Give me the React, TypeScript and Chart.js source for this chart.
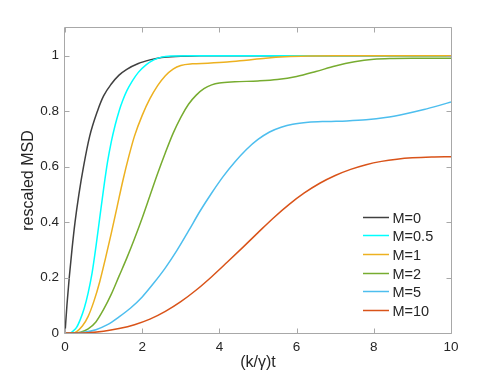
import React, { useEffect, useRef } from 'react';
import { Chart, registerables } from 'chart.js';

Chart.register(...registerables);

const seriesLabels = ['M=0', 'M=0.5', 'M=1', 'M=2', 'M=5', 'M=10'];
const seriesColors = ['#404040', '#00FFFF', '#EDB120', '#77AC30', '#4DBEEE', '#D95319'];

const tM0 = [0, 0.05, 0.11, 0.18, 0.26, 0.36, 0.48, 0.64, 0.84, 1.0, 1.2, 1.4, 1.6, 1.9, 2.2, 2.5, 3.0, 3.5, 10];
const yM0 = [0, 0.1, 0.2, 0.3, 0.4, 0.5, 0.6, 0.71, 0.8, 0.855, 0.898, 0.93, 0.951, 0.972, 0.985, 0.994, 0.998, 1, 1];

const tM05 = [0, 0.14, 0.2, 0.3, 0.4, 0.5, 0.6, 0.7, 0.8, 0.9, 1.0, 1.1, 1.2, 1.3, 1.4, 1.5, 1.6, 1.75, 1.9, 2.1, 2.3, 2.5, 2.8, 3.2, 10];
const yM05 = [0, 0, 0.006, 0.02, 0.05, 0.09, 0.145, 0.215, 0.31, 0.415, 0.52, 0.615, 0.69, 0.75, 0.8, 0.84, 0.873, 0.91, 0.94, 0.967, 0.985, 0.995, 0.999, 1, 1];

const tM1 = [0, 0.2, 0.3, 0.45, 0.6, 0.75, 0.9, 1.05, 1.2, 1.35, 1.5, 1.65, 1.8, 2.0, 2.2, 2.4, 2.6, 2.8, 3.0, 3.3, 3.7, 4.2, 4.7, 5.2, 5.7, 6.3, 7.0, 10];
const yM1 = [0, 0, 0.005, 0.025, 0.06, 0.115, 0.185, 0.27, 0.36, 0.455, 0.55, 0.635, 0.71, 0.785, 0.845, 0.892, 0.928, 0.952, 0.965, 0.971, 0.973, 0.977, 0.984, 0.991, 0.996, 0.999, 1, 1];

const tM2 = [0, 0.2, 0.4, 0.6, 0.8, 1.0, 1.2, 1.4, 1.6, 1.8, 2.0, 2.2, 2.4, 2.6, 2.8, 3.0, 3.2, 3.4, 3.6, 3.8, 4.0, 4.4, 5.0, 5.5, 6.0, 6.5, 7.0, 7.5, 8.0, 8.5, 9.0, 10];
const yM2 = [0, 0, 0.003, 0.015, 0.04, 0.085, 0.14, 0.205, 0.27, 0.34, 0.415, 0.495, 0.575, 0.65, 0.72, 0.778, 0.825, 0.858, 0.881, 0.895, 0.902, 0.906, 0.909, 0.914, 0.925, 0.943, 0.963, 0.978, 0.987, 0.99, 0.991, 0.991];

const tM5 = [0, 0.2, 0.5, 0.8, 1.1, 1.4, 1.7, 2.0, 2.3, 2.6, 2.9, 3.2, 3.5, 3.8, 4.1, 4.4, 4.7, 5.0, 5.3, 5.6, 5.9, 6.3, 6.8, 7.3, 7.8, 8.3, 8.8, 9.3, 9.7, 10];
const yM5 = [0, 0, 0.003, 0.012, 0.03, 0.058, 0.09, 0.13, 0.18, 0.235, 0.298, 0.368, 0.44, 0.505, 0.565, 0.617, 0.662, 0.698, 0.725, 0.742, 0.753, 0.76, 0.763, 0.765, 0.769, 0.777, 0.79, 0.806, 0.821, 0.833];

const tM10 = [0, 0.3, 0.6, 1.0, 1.4, 1.8, 2.2, 2.6, 3.0, 3.4, 3.8, 4.2, 4.6, 5.0, 5.4, 5.8, 6.2, 6.6, 7.0, 7.4, 7.8, 8.2, 8.6, 9.0, 9.5, 10];
const yM10 = [0, 0, 0.001, 0.006, 0.016, 0.03, 0.05, 0.078, 0.113, 0.155, 0.203, 0.255, 0.308, 0.362, 0.415, 0.463, 0.505, 0.54, 0.568, 0.59, 0.607, 0.619, 0.627, 0.632, 0.635, 0.636];

const seriesT = [tM0, tM05, tM1, tM2, tM5, tM10];
const seriesY = [yM0, yM05, yM1, yM2, yM5, yM10];

const xTicks = [0, 2, 4, 6, 8, 10];
const yTicks = [0, 0.2, 0.4, 0.6, 0.8, 1];

const FONT = '"Liberation Sans", Arial, Helvetica, sans-serif';
const TEXT = '#262626';
const BOX = '#a8a8a8';

const boxPlugin = {
  id: 'matlabBox',
  afterDatasetsDraw(chart: any) {
    const { ctx, chartArea: a, scales } = chart;
    ctx.save();
    ctx.strokeStyle = BOX;
    ctx.lineWidth = 1;
    const L = Math.round(a.left) - 0.5;
    const R = Math.round(a.right) + 0.5;
    const T = Math.round(a.top) - 0.5;
    const B = Math.round(a.bottom) + 0.5;
    ctx.beginPath();
    ctx.rect(L, T, R - L, B - T);
    const tl = 5;
    xTicks.forEach((v) => {
      const x = Math.round(scales.x.getPixelForValue(v)) + 0.5;
      ctx.moveTo(x, B); ctx.lineTo(x, B - tl);
      ctx.moveTo(x, T); ctx.lineTo(x, T + tl);
    });
    yTicks.forEach((v) => {
      const y = Math.round(scales.y.getPixelForValue(v)) + 0.5;
      ctx.moveTo(L, y); ctx.lineTo(L + tl, y);
      ctx.moveTo(R, y); ctx.lineTo(R - tl, y);
    });
    ctx.stroke();
    ctx.restore();
  },
  afterDraw(chart: any) {
    const { ctx, chartArea: a } = chart;
    const ds = chart.data.datasets;
    const n = ds.length;
    const rowH = 18.7;
    const x0 = a.right - 88;
    const x1 = a.right - 62;
    const tx = a.right - 58.5;
    const lastY = a.bottom - 23;
    ctx.save();
    ctx.font = `14.5px ${FONT}`;
    ctx.textBaseline = 'middle';
    ctx.textAlign = 'left';
    ds.forEach((d: any, i: number) => {
      const y = Math.round(lastY - (n - 1 - i) * rowH) + 0.5;
      ctx.strokeStyle = d.borderColor;
      ctx.lineWidth = 1.5;
      ctx.beginPath();
      ctx.moveTo(x0, y);
      ctx.lineTo(x1, y);
      ctx.stroke();
      ctx.fillStyle = TEXT;
      ctx.fillText(d.label, tx, y + 1);
    });
    ctx.restore();
  },
};

export default function App() {
  const ref = useRef<HTMLCanvasElement | null>(null);
  useEffect(() => {
    if (!ref.current) return;
    const datasets = seriesLabels.map((label, i) => ({
      label,
      data: seriesT[i].map((t, j) => ({ x: t, y: seriesY[i][j] })),
      borderColor: seriesColors[i],
      backgroundColor: seriesColors[i],
      borderWidth: 1.5,
      pointRadius: 0,
      fill: false,
      cubicInterpolationMode: 'monotone' as const,
      order: seriesLabels.length - i,
    }));
    const chart = new Chart(ref.current, {
      type: 'line',
      data: { datasets },
      options: {
        responsive: false,
        animation: false,
        layout: { padding: { top: 28, right: 47, left: 0, bottom: 0 } },
        plugins: { legend: { display: false }, tooltip: { enabled: false } },
        scales: {
          x: {
            type: 'linear',
            min: 0,
            max: 10,
            grid: { display: false, drawTicks: false },
            border: { display: false },
            ticks: {
              stepSize: 2,
              padding: 6,
              color: TEXT,
              font: { family: FONT, size: 13.5 },
              maxRotation: 0,
              callback: (v: any) => String(v),
            },
            title: {
              display: true,
              text: '(k/γ)t',
              color: TEXT,
              font: { family: FONT, size: 16 },
              padding: { top: 0, bottom: 2 },
            },
            afterFit: (s: any) => { s.height = 41; },
          },
          y: {
            type: 'linear',
            min: 0,
            max: 1.1,
            grid: { display: false, drawTicks: false },
            border: { display: false },
            ticks: {
              stepSize: 0.2,
              includeBounds: false,
              padding: 6,
              color: TEXT,
              font: { family: FONT, size: 13.5 },
              callback: (v: any) => String(Math.round(Number(v) * 10) / 10),
            },
            title: {
              display: true,
              text: 'rescaled MSD',
              color: TEXT,
              font: { family: FONT, size: 16 },
              padding: { top: 19, bottom: 0 },
            },
            afterFit: (s: any) => { s.width = 65; },
          },
        },
      },
      plugins: [boxPlugin],
    });
    return () => chart.destroy();
  }, []);
  return (
    <div style={{ position: 'absolute', left: 0, top: 0, width: 498, height: 374 }}>
      <canvas ref={ref} width={498} height={374} style={{ display: 'block' }} />
    </div>
  );
}
